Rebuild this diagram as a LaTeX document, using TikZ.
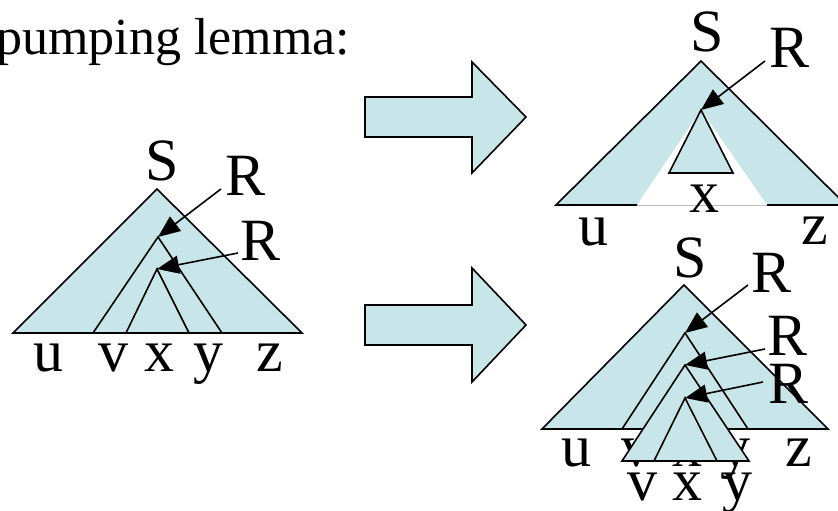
\documentclass[tikz,border=0pt]{standalone}
\usepackage{fontspec}
\setmainfont{Liberation Serif}
\usetikzlibrary{arrows.meta}
\definecolor{treeblue}{RGB}{200,230,234}

\begin{document}
\begin{tikzpicture}[
  x=1pt, y=-1pt,
  tree/.style={fill=treeblue, draw=black, line width=1.6pt, line join=miter},
  edge/.style={draw=black, line width=1.6pt},
  ptr/.style={-{Triangle[length=22pt,width=18pt]}, line width=1.6pt},
  lbl/.style={font=\fontsize{60}{60}\selectfont, inner sep=0pt, anchor=base},
  bigarrow/.style={fill=treeblue, draw=black, line width=1.6pt},
]
\clip (0,0) rectangle (838,511);

% heading (second line only)
\node[anchor=base west, inner sep=0pt, font=\fontsize{52}{52}\selectfont] (title) at (-4,55) {pumping lemma:};

% --- Left tree: u v x y z ---
\coordinate (lS) at (157,189);
\coordinate (lR1) at (158,237);
\coordinate (lR2) at (157,269);
\draw[tree] (13,333) -- (lS) -- (302,333) -- cycle;
\draw[edge] (93,333) -- (lR1) -- (222,333);
\draw[edge] (126,333) -- (lR2) -- (189,333);

\node[lbl] (lSlbl) at (162,180) {S};
\node[lbl] (lRa) at (246,195) {R};
\node[lbl] (lRb) at (261,260) {R};
\node[lbl] (lu) at (48,371) {u};
\node[lbl] (lv) at (113,371) {v};
\node[lbl] (lx) at (159,371) {x};
\node[lbl] (ly) at (208,371) {y};
\node[lbl] (lz) at (270,371) {z};

\coordinate (lTa) at (221,189);
\coordinate (lTb) at (238,253);
\draw[ptr] (lTa) -- (lR1);
\draw[ptr] (lTb) -- (lR2);

% --- Block arrows ---
\draw[bigarrow] (365,97) -- (472,97) -- (472,62) -- (526,117) -- (472,173) -- (472,137) -- (365,137) -- cycle;
\draw[bigarrow] (365,305) -- (472,305) -- (472,268) -- (526,325) -- (472,382) -- (472,345) -- (365,345) -- cycle;

% --- Top right: pumped down (u x z) ---
\coordinate (aS) at (701,61);
\coordinate (aR) at (701,110);
\fill[treeblue] (556,205) -- (aS) -- (846,205) -- cycle;
\fill[white] (637,205) -- (aR) -- (767,205) -- cycle;
\draw[black!25, line width=0.8pt] (637,205) -- (767,205);
\draw[edge, line join=miter] (637,205) -- (556,205) -- (aS) -- (846,205) -- (767,205);
\draw[tree] (aR) -- (669,173) -- (733,173) -- cycle;

\node[lbl] (aSlbl) at (707,52) {S};
\node[lbl] (aRlbl) at (790,68) {R};
\node[lbl] (ax) at (704,212) {x};
\node[lbl] (au) at (593,245) {u};
\node[lbl] (az) at (815,244) {z};

\coordinate (aT) at (765,61);
\draw[ptr] (aT) -- (aR);

% --- Bottom right: pumped up (u v v x y y z) ---
\coordinate (bS) at (684,285);
\coordinate (bR1) at (685,333);
\coordinate (bR2) at (685,365);
\coordinate (bR3) at (685,398);
\draw[tree] (542,429) -- (bS) -- (828,429) -- cycle;
\draw[edge] (622,429) -- (bR1) -- (748,429);

\node[lbl] (bu) at (576,466) {u};
\node[lbl] (bv) at (636,466) {v};
\node[lbl] (bx) at (687,466) {x};
\node[lbl] (by) at (735,466) {y};
\node[lbl] (bz) at (799,466) {z};

\draw[tree] (622,461) -- (bR2) -- (749,461) -- cycle;
\draw[edge] (654,461) -- (bR3) -- (717,461);

\node[lbl] (bv2) at (642,500) {v};
\node[lbl] (bx2) at (687,500) {x};
\node[lbl] (by2) at (737,500) {y};

\node[lbl] (bSlbl) at (690,277) {S};
\node[lbl] (bRa) at (772,292) {R};
\node[lbl] (bRb) at (788,355) {R};
\node[lbl] (bRc) at (789,403) {R};

\coordinate (bTa) at (748,285);
\coordinate (bTb) at (765,349);
\coordinate (bTc) at (763,382);
\draw[ptr] (bTa) -- (bR1);
\draw[ptr] (bTb) -- (bR2);
\draw[ptr] (bTc) -- (bR3);

\end{tikzpicture}
\end{document}
